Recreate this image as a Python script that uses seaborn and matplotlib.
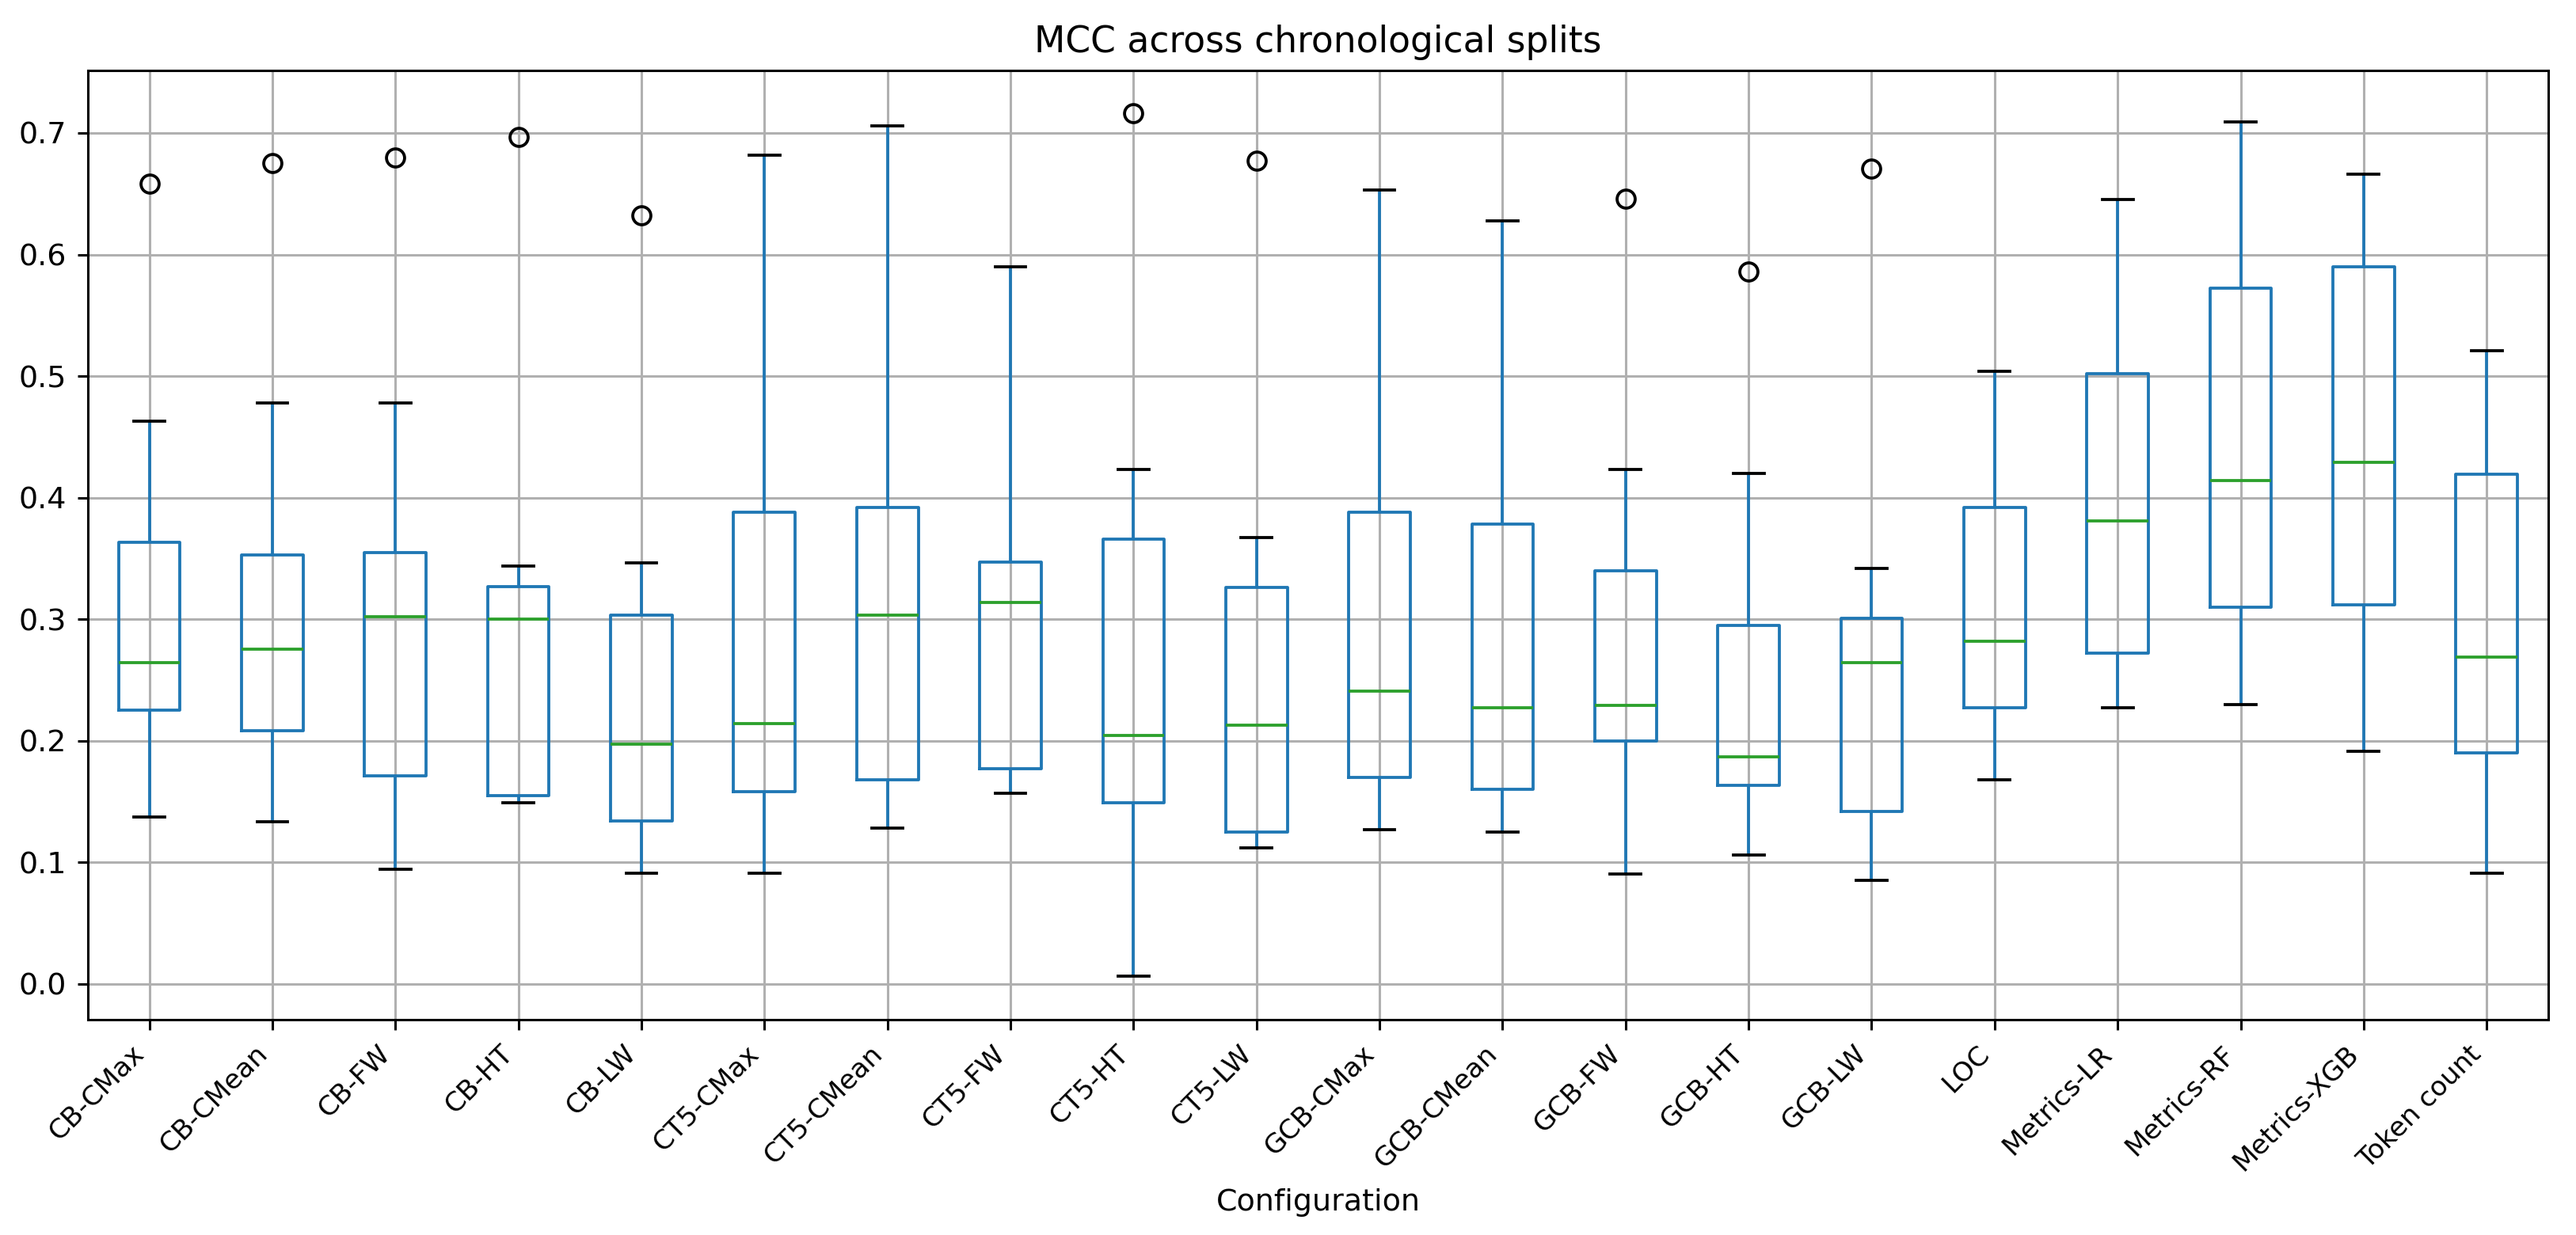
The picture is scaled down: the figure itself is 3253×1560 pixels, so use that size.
import matplotlib
matplotlib.use("Agg")
import matplotlib.pyplot as plt
import seaborn as sns
import pandas as pd

configs = ["CB-CMax", "CB-CMean", "CB-FW", "CB-HT", "CB-LW",
           "CT5-CMax", "CT5-CMean", "CT5-FW", "CT5-HT", "CT5-LW",
           "GCB-CMax", "GCB-CMean", "GCB-FW", "GCB-HT", "GCB-LW",
           "LOC", "Metrics-LR", "Metrics-RF", "Metrics-XGB", "Token count"]

# values, one entry per configuration
low = [0.137, 0.133, 0.094, 0.149, 0.091, 0.091, 0.128, 0.157, 0.006, 0.112,
       0.127, 0.125, 0.090, 0.106, 0.085, 0.168, 0.227, 0.230, 0.191, 0.091]
q1 = [0.225, 0.208, 0.171, 0.155, 0.134, 0.158, 0.168, 0.177, 0.149, 0.125,
      0.170, 0.160, 0.200, 0.163, 0.142, 0.227, 0.272, 0.310, 0.312, 0.190]
median = [0.264, 0.275, 0.302, 0.300, 0.197, 0.214, 0.303, 0.314, 0.204, 0.213,
          0.241, 0.227, 0.229, 0.187, 0.264, 0.282, 0.381, 0.414, 0.429, 0.269]
q3 = [0.363, 0.353, 0.355, 0.327, 0.303, 0.388, 0.392, 0.347, 0.366, 0.326,
      0.388, 0.378, 0.340, 0.295, 0.301, 0.392, 0.502, 0.572, 0.590, 0.419]
high = [0.463, 0.478, 0.478, 0.344, 0.346, 0.682, 0.706, 0.590, 0.423, 0.367,
        0.653, 0.628, 0.423, 0.420, 0.342, 0.504, 0.645, 0.709, 0.666, 0.521]
outlier = [0.658, 0.675, 0.680, 0.697, 0.632, None, None, None, 0.716, 0.677,
           None, None, 0.646, 0.586, 0.671, None, None, None, None, None]

rows = []
for i, c in enumerate(configs):
    last = outlier[i] if outlier[i] is not None else high[i]
    vals = [low[i], q1[i], q1[i], median[i], median[i], q3[i], q3[i], high[i], last]
    for v in vals:
        rows.append({"Configuration": c, "MCC": v})
df = pd.DataFrame(rows)

DPI = 274
fig, ax = plt.subplots(figsize=(3253 / DPI, 1560 / DPI), dpi=DPI)
fig.subplots_adjust(left=0.0341, right=0.9892, top=0.943, bottom=0.1744)

sns.boxplot(data=df, x="Configuration", y="MCC", order=configs, ax=ax,
            fill=False, color="C0", width=0.5, linewidth=1, whis=1.5,
            boxprops={"color": "C0", "linewidth": 1},
            whiskerprops={"color": "C0", "linewidth": 1},
            capprops={"color": "black", "linewidth": 1},
            medianprops={"color": "C2", "linewidth": 1},
            flierprops={"marker": "o", "markersize": 6, "markerfacecolor": "none",
                        "markeredgecolor": "black", "markeredgewidth": 1})

ax.grid(True, color="#b0b0b0", linewidth=0.8)
ax.set_axisbelow(True)
ax.set_ylabel("")
ax.set_xlabel("Configuration")
ax.set_title("MCC across chronological splits")
ax.set_yticks([0.0, 0.1, 0.2, 0.3, 0.4, 0.5, 0.6, 0.7])
ax.set_ylim(-0.0295, 0.7515)
ax.set_xlim(-0.5, len(configs) - 0.5)
plt.setp(ax.get_xticklabels(), rotation=45, ha="right", fontsize=9)

fig.savefig("out.png", dpi=DPI)
